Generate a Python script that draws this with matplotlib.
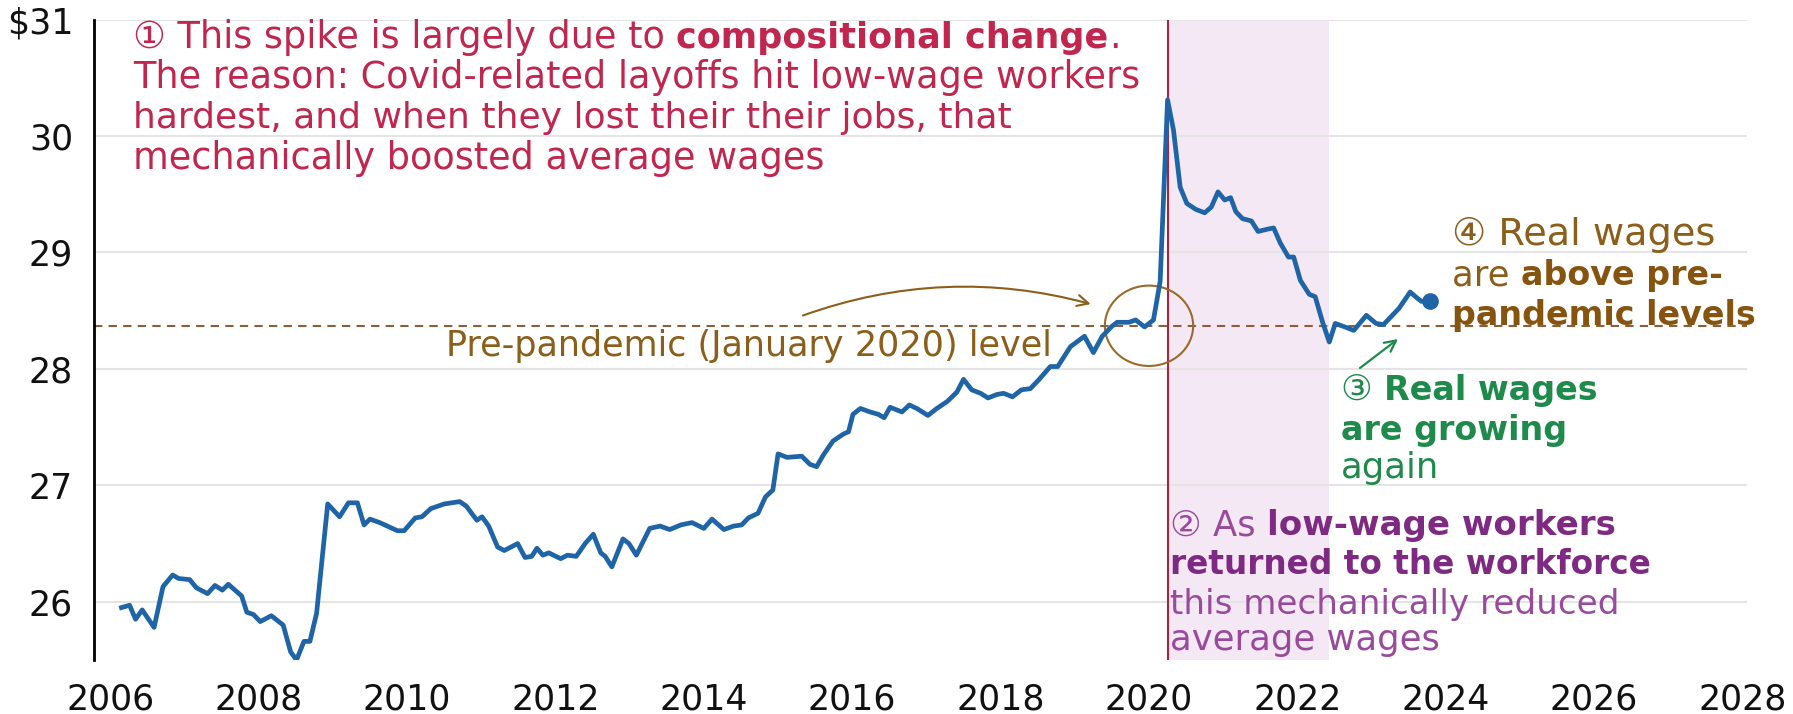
import matplotlib.pyplot as plt
from matplotlib.patches import Ellipse, FancyArrowPatch
from matplotlib.font_manager import FontProperties
from matplotlib.transforms import IdentityTransform

plt.rcParams['font.family'] = ['DejaVu Sans', 'Noto Sans CJK SC']

# real average hourly wage (year as decimal)
years = [2006.15, 2006.26, 2006.34, 2006.43, 2006.59, 2006.71, 2006.84, 2006.92,
         2007.07, 2007.16, 2007.31, 2007.41, 2007.51, 2007.59, 2007.77, 2007.84,
         2007.93, 2008.02, 2008.17, 2008.33, 2008.43, 2008.51, 2008.61, 2008.69,
         2008.78, 2008.93, 2009.09, 2009.21, 2009.33, 2009.42, 2009.50, 2009.63,
         2009.87, 2009.96, 2010.11, 2010.20, 2010.32, 2010.50, 2010.71, 2010.80,
         2010.94, 2011.01, 2011.10, 2011.22, 2011.31, 2011.49, 2011.59, 2011.68,
         2011.75, 2011.83, 2011.91, 2012.07, 2012.16, 2012.28, 2012.40, 2012.51,
         2012.61, 2012.67, 2012.76, 2012.91, 2012.99, 2013.09, 2013.27, 2013.41,
         2013.54, 2013.69, 2013.84, 2014.00, 2014.11, 2014.27, 2014.40, 2014.51,
         2014.60, 2014.73, 2014.83, 2014.93, 2015.00, 2015.12, 2015.32, 2015.43,
         2015.52, 2015.61, 2015.74, 2015.88, 2015.95, 2016.01, 2016.11, 2016.24,
         2016.35, 2016.43, 2016.51, 2016.67, 2016.77, 2016.87, 2017.02, 2017.14,
         2017.28, 2017.41, 2017.50, 2017.61, 2017.73, 2017.83, 2017.95, 2018.04,
         2018.16, 2018.28, 2018.40, 2018.52, 2018.67, 2018.77, 2018.94, 2019.13,
         2019.25, 2019.37, 2019.49, 2019.57, 2019.73, 2019.82, 2019.94, 2020.06,
         2020.15, 2020.25, 2020.33, 2020.42, 2020.51, 2020.63, 2020.75, 2020.84,
         2020.93, 2021.02, 2021.10, 2021.17, 2021.26, 2021.38, 2021.47, 2021.60,
         2021.68, 2021.77, 2021.88, 2021.95, 2022.04, 2022.16, 2022.24, 2022.34,
         2022.43, 2022.51, 2022.64, 2022.76, 2022.93, 2023.06, 2023.16, 2023.25,
         2023.37, 2023.52, 2023.61, 2023.67, 2023.79]
wages = [25.95, 25.97, 25.85, 25.93, 25.78, 26.13, 26.23, 26.20,
         26.19, 26.12, 26.07, 26.14, 26.10, 26.15, 26.05, 25.91,
         25.89, 25.83, 25.88, 25.80, 25.57, 25.50, 25.66, 25.66,
         25.90, 26.84, 26.73, 26.85, 26.85, 26.66, 26.71, 26.68,
         26.61, 26.61, 26.72, 26.73, 26.80, 26.84, 26.86, 26.82,
         26.70, 26.73, 26.65, 26.47, 26.44, 26.50, 26.38, 26.39,
         26.46, 26.40, 26.42, 26.37, 26.40, 26.39, 26.50, 26.58,
         26.42, 26.39, 26.30, 26.54, 26.50, 26.40, 26.63, 26.65,
         26.62, 26.66, 26.68, 26.63, 26.71, 26.62, 26.65, 26.66,
         26.72, 26.76, 26.90, 26.96, 27.27, 27.24, 27.25, 27.18,
         27.16, 27.26, 27.38, 27.44, 27.46, 27.61, 27.66, 27.63,
         27.61, 27.58, 27.67, 27.63, 27.69, 27.66, 27.60, 27.66,
         27.72, 27.80, 27.91, 27.82, 27.79, 27.75, 27.78, 27.79,
         27.76, 27.82, 27.83, 27.91, 28.02, 28.02, 28.19, 28.28,
         28.14, 28.28, 28.36, 28.40, 28.40, 28.42, 28.36, 28.42,
         28.75, 30.31, 30.05, 29.56, 29.42, 29.37, 29.34, 29.39,
         29.52, 29.45, 29.47, 29.35, 29.29, 29.27, 29.18, 29.20,
         29.21, 29.08, 28.96, 28.96, 28.76, 28.64, 28.62, 28.40,
         28.23, 28.39, 28.36, 28.33, 28.46, 28.39, 28.38, 28.44,
         28.52, 28.66, 28.61, 28.58, 28.58]

pre_pandemic = 28.37
covid_start = 2020.25
recovery_end = 2022.42

y_ticks = [26, 27, 28, 29, 30, 31]
y_labels = ['26', '27', '28', '29', '30', '$31']
x_ticks = list(range(2006, 2029, 2))

RED = '#c0264e'
PURPLE = '#9a4a9c'
PURPLE_B = '#7e2a82'
GREEN = '#1e8a4c'
BROWN = '#8b5e1a'
BROWN_B = '#875410'
BLUE = '#1f64a6'

W, H = 1793, 714
fig = plt.figure(figsize=(W / 100, H / 100), dpi=100)
ax = fig.add_axes([94 / W, 1 - 660 / H, (1747 - 94) / W, (660 - 19.5) / H])

ax.set_xlim(2005.78, 2028.06)
ax.set_ylim(25.5, 31)
ax.axvspan(covid_start, recovery_end, color='#f4e8f4', lw=0, zorder=0)
ax.grid(axis='y', color='#e4e4e4', lw=1.5, zorder=1)
ax.set_axisbelow(True)
ax.axvline(covid_start, color='#a8243c', lw=1.5, zorder=2)
ax.axhline(pre_pandemic, color='#8b5e3c', lw=1.5, ls=(0, (4, 3)), zorder=2)
ax.plot(years, wages, color=BLUE, lw=3.4, zorder=4, solid_joinstyle='round')
ax.plot(years[-1], wages[-1], 'o', color=BLUE, ms=11, zorder=5)

ax.set_yticks(y_ticks, y_labels)
ax.set_xticks(x_ticks)
ax.tick_params(length=0, labelsize=25, colors='#111111')
ax.tick_params(axis='y', pad=15)
ax.tick_params(axis='x', pad=16)
for s in ['top', 'right', 'bottom']:
    ax.spines[s].set_visible(False)
ax.spines['left'].set_linewidth(2)

# circle around the pre-pandemic point and the arrows
ax.add_patch(Ellipse((2020.0, pre_pandemic), 1.19, 0.69, fill=False,
                     ec='#9a6a2a', lw=1.5, zorder=3))
ax.add_patch(FancyArrowPatch((2015.30, 28.45), (2019.25, 28.55),
                             connectionstyle='arc3,rad=-0.16', arrowstyle='->,head_length=8,head_width=4',
                             color='#8b5e1a', lw=1.5, zorder=3))
# green arrow sits just above the "③" label, so place it in the same pixel space
fig.add_artist(FancyArrowPatch((1360, H - 368), (1398, H - 339), transform=IdentityTransform(),
                               arrowstyle='->,head_length=8,head_width=4', color=GREEN, lw=1.6,
                               shrinkA=0, shrinkB=0, zorder=6))

# rich text lines placed in pixel coords (from top-left)
renderer = fig.canvas.get_renderer()
FAM = ['DejaVu Sans', 'Noto Sans CJK SC']


def advance(s, weight, size):
    fp = FontProperties(family=FAM, weight=weight, size=size)
    w1 = renderer.get_text_width_height_descent(s + '|', fp, ismath=False)[0]
    w0 = renderer.get_text_width_height_descent('|', fp, ismath=False)[0]
    return w1 - w0


def line(x, y, parts, ns=25.5, bs=24):
    px = x
    for s, weight, color in parts:
        size = bs if weight == 'bold' else ns
        fig.text(px, H - y, s, transform=IdentityTransform(), fontsize=size,
                 fontweight=weight, color=color, va='baseline', ha='left', zorder=6)
        px += advance(s, weight, size)


n, b = 'normal', 'bold'
a1 = dict(ns=26.4, bs=25.2)
line(133, 48, [('① This spike is largely due to ', n, RED), ('compositional change', b, RED), ('.', n, RED)], **a1)
line(133, 88, [('The reason: Covid-related layoffs hit low-wage workers', n, RED)], **a1)
line(133, 128, [('hardest, and when they lost their their jobs, that', n, RED)], ns=26.0)
line(133, 169, [('mechanically boosted average wages', n, RED)], **a1)

line(446, 356, [('Pre-pandemic (January 2020) level', n, BROWN)], ns=25.2)

line(1452, 245, [('④ Real wages', n, BROWN)], ns=27.5)
line(1452, 285, [('are ', n, BROWN), ('above pre-', b, BROWN_B)])
line(1452, 325, [('pandemic levels', b, BROWN_B)])

line(1341, 400, [('③ ', n, GREEN), ('Real wages', b, GREEN)])
line(1341, 440, [('are growing', b, GREEN)])
line(1341, 478, [('again', n, GREEN)])

line(1170, 535, [('② As ', n, PURPLE), ('low-wage workers', b, PURPLE_B)], bs=24.6)
line(1170, 574, [('returned to the workforce', b, PURPLE_B)], bs=23.6)
line(1170, 614, [('this mechanically reduced', n, PURPLE)], ns=24.6)
line(1170, 650, [('average wages', n, PURPLE)], ns=25.5)

fig.savefig('out.png', dpi=100)
